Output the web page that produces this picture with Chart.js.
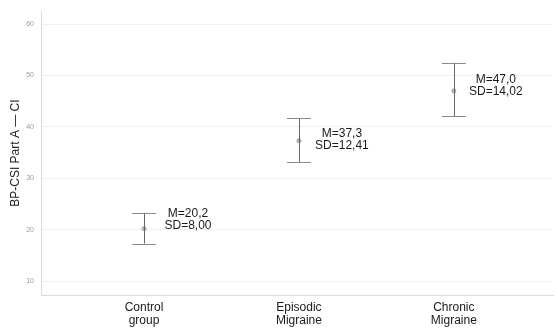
<!DOCTYPE html>
<html>
<head>
<meta charset="utf-8">
<script src="https://cdn.jsdelivr.net/npm/chart.js@4.4.0/dist/chart.umd.min.js"></script>
<style>
  html, body { margin: 0; padding: 0; background: #ffffff; }
  #wrap { width: 558px; height: 328px; }
</style>
</head>
<body>
<div id="wrap"><canvas id="c" width="558" height="328"></canvas></div>
<script>
// ---- data ----
const categories = [["Control", "group"], ["Episodic", "Migraine"], ["Chronic", "Migraine"]];
const means  = [20.2, 37.3, 47.0];
const ciLow  = [17.3, 33.1, 42.1];
const ciHigh = [23.3, 41.7, 52.5];
const sdValues = [8.00, 12.41, 14.02];
const yTicks = [10, 20, 30, 40, 50, 60];
const yTitle = "BP-CSI Part A \u2014 CI";

function fmt(v, d) { return v.toFixed(d).replace(".", ","); }

const errorBarPlugin = {
  id: "errorBars",
  afterDatasetsDraw(chart, args, opts) {
    const ctx = chart.ctx;
    const xs = chart.scales.x, ys = chart.scales.y;
    ctx.save();
    for (let i = 0; i < means.length; i++) {
      const x = xs.getPixelForValue(i);
      const yH = ys.getPixelForValue(ciHigh[i]);
      const yL = ys.getPixelForValue(ciLow[i]);
      const yM = ys.getPixelForValue(means[i]);
      ctx.lineWidth = 1;
      ctx.strokeStyle = opts.lineColor;
      ctx.beginPath();
      ctx.moveTo(Math.round(x) + 0.5, yH);
      ctx.lineTo(Math.round(x) + 0.5, yL);
      ctx.stroke();
      ctx.strokeStyle = opts.capColor;
      ctx.beginPath();
      ctx.moveTo(x - opts.capHalf, Math.round(yH) + 0.5);
      ctx.lineTo(x + opts.capHalf, Math.round(yH) + 0.5);
      ctx.moveTo(x - opts.capHalf, Math.round(yL) + 0.5);
      ctx.lineTo(x + opts.capHalf, Math.round(yL) + 0.5);
      ctx.stroke();
      // annotation text
      const off = opts.labelOffsets[i];
      ctx.fillStyle = opts.textColor;
      ctx.font = opts.font;
      ctx.textAlign = "center";
      ctx.textBaseline = "middle";
      ctx.fillText("M=" + fmt(means[i], 1), x + off[0], yM + off[1]);
      ctx.fillText("SD=" + fmt(sdValues[i], 2), x + off[0], yM + off[1] + opts.lineGap);
    }
    ctx.restore();
  }
};

new Chart(document.getElementById("c"), {
  type: "scatter",
  data: {
    datasets: [{
      data: means.map((m, i) => ({ x: i, y: m })),
      pointRadius: 2,
      pointBackgroundColor: "#b8b8b8",
      pointBorderColor: "#a0a0a0",
      pointBorderWidth: 1,
      showLine: false
    }]
  },
  options: {
    responsive: false,
    animation: false,
    devicePixelRatio: 1,
    layout: { padding: { top: 10, right: 0, left: 0, bottom: 0 } },
    plugins: {
      legend: { display: false },
      tooltip: { enabled: false },
      errorBars: {
        lineColor: "#666666",
        capColor: "#8a8a8a",
        capHalf: 12,
        textColor: "#1a1a1a",
        font: "12px 'Liberation Sans', Arial, sans-serif",
        labelOffsets: [[44, -15], [43, -7.5], [42, -11.5]],
        lineGap: 12
      }
    },
    scales: {
      x: {
        type: "linear",
        min: -0.665,
        max: 2.64,
        afterBuildTicks: (s) => { s.ticks = categories.map((c, i) => ({ value: i })); },
        afterFit: (s) => { s.height = 33; },
        grid: { display: false, drawTicks: false },
        border: { display: true, color: "#dcdcdc", width: 1 },
        ticks: {
          padding: 6,
          color: "#1a1a1a",
          font: { family: "'Liberation Sans', Arial, sans-serif", size: 12, lineHeight: 1.1 },
          callback: (v) => categories[v] || ""
        }
      },
      y: {
        type: "linear",
        min: 7.3,
        max: 62.5,
        afterBuildTicks: (s) => { s.ticks = yTicks.map(v => ({ value: v })); },
        afterFit: (s) => { s.width = 41; },
        grid: { display: true, color: "#f0f0f0", drawTicks: false, lineWidth: 1 },
        border: { display: true, color: "#dcdcdc", width: 1 },
        ticks: {
          padding: 7,
          color: "#9a9a9a",
          font: { family: "'Liberation Sans', Arial, sans-serif", size: 7 },
          callback: (v) => String(v)
        },
        title: {
          display: true,
          text: yTitle,
          color: "#222222",
          font: { family: "'Liberation Sans', Arial, sans-serif", size: 12 },
          padding: { top: 8, bottom: 0 }
        }
      }
    }
  },
  plugins: [errorBarPlugin]
});
</script>
</body>
</html>
